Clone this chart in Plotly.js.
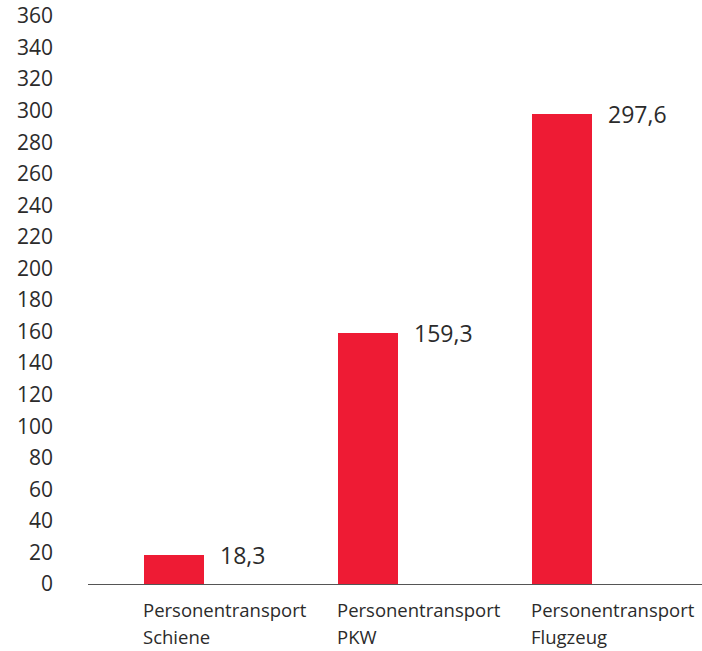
<!DOCTYPE html>
<html>
<head>
<meta charset="utf-8">
<script src="https://cdn.plot.ly/plotly-3.0.1.min.js"></script>
<style>html,body{margin:0;padding:0;background:#fff;}#chart{width:702px;height:651px;}</style>
</head>
<body>
<div id="chart"></div>
<script>
const categories = ["Personentransport Schiene", "Personentransport PKW", "Personentransport Flugzeug"];
const labelLine1 = ["Personentransport", "Personentransport", "Personentransport"];
const labelLine2 = ["Schiene", "PKW", "Flugzeug"];
const values = [18.3, 159.3, 297.6];
const valueLabels = ["18,3", "159,3", "297,6"];
const yTicks = [0,20,40,60,80,100,120,140,160,180,200,220,240,260,280,300,320,340,360];

const barColor = "#ee1b34";
const textColor = "#2b2b2b";
const font = "'Open Sans', 'Noto Sans', sans-serif";

const trace = {
  type: "bar",
  x: categories,
  y: values,
  width: 0.31,
  marker: {color: barColor},
  hoverinfo: "none"
};

const annotations = [];
categories.forEach((c, i) => {
  annotations.push({
    x: c, y: values[i], xref: "x", yref: "y",
    text: valueLabels[i], showarrow: false,
    xanchor: "left", yanchor: "middle", xshift: 44, yshift: 0,
    font: {family: font, size: 23, color: textColor}
  });
  annotations.push({
    x: c, y: 0, xref: "x", yref: "paper",
    text: labelLine1[i], showarrow: false, align: "left",
    xanchor: "left", yanchor: "top", xshift: -33, yshift: -11,
    font: {family: font, size: 18.5, color: textColor}
  });
  annotations.push({
    x: c, y: 0, xref: "x", yref: "paper",
    text: labelLine2[i], showarrow: false, align: "left",
    xanchor: "left", yanchor: "top", xshift: -33, yshift: -38,
    font: {family: font, size: 18.5, color: textColor}
  });
});

const layout = {
  width: 702, height: 651,
  margin: {l: 88, r: 0, t: 16, b: 67},
  paper_bgcolor: "#fff", plot_bgcolor: "#fff",
  showlegend: false,
  bargap: 0,
  xaxis: {
    type: "category",
    range: [-0.443, 2.722],
    showticklabels: false,
    showgrid: false, zeroline: false,
    showline: true, linecolor: "#555", linewidth: 1,
    ticks: ""
  },
  yaxis: {
    range: [0, 360],
    tickvals: yTicks,
    ticktext: yTicks.map(String),
    showgrid: false, zeroline: false, showline: false,
    ticks: "",
    ticklabelstandoff: 34,
    tickfont: {family: font, size: 21, color: textColor}
  },
  annotations: annotations
};

Plotly.newPlot("chart", [trace], layout, {displayModeBar: false, staticPlot: true});
</script>
</body>
</html>
